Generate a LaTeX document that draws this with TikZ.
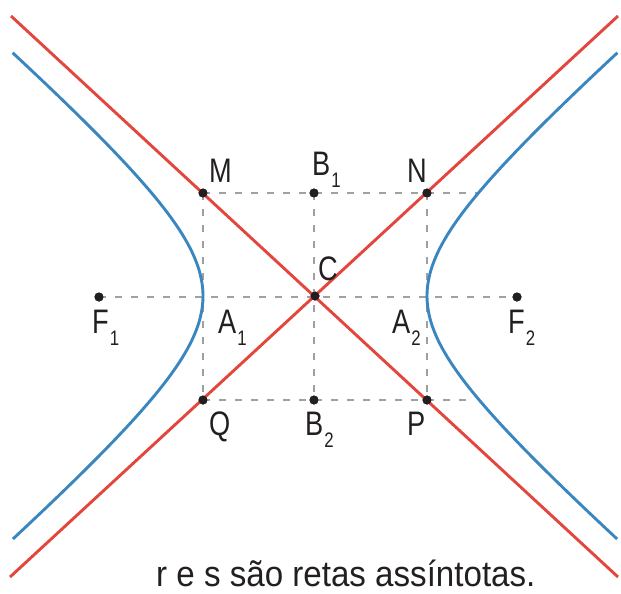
\documentclass[tikz,border=0pt]{standalone}
\usepackage{fontspec}
\setmainfont{Liberation Sans}
\newfontfamily\labfont[FakeStretch=0.8]{Liberation Sans}
\newfontfamily\capfont[FakeStretch=0.92]{Liberation Sans}
\definecolor{redline}{HTML}{E2463C}
\definecolor{blueline}{HTML}{3A86BF}
\definecolor{dashgray}{HTML}{A0A0A0}
\definecolor{ink}{HTML}{231F20}
\newcommand{\lbl}[1]{\fontsize{34}{34}\labfont #1}
\newcommand{\lblsub}[2]{\fontsize{34}{34}\labfont #1\kern1pt\raisebox{-12pt}{\fontsize{21}{21}\labfont #2}}
\begin{document}
\begin{tikzpicture}[x=1pt,y=-1pt,
  ptdot/.style={circle,fill=ink,inner sep=0pt,minimum size=9pt},
  dashline/.style={draw=dashgray,line width=2.2pt,dash pattern=on 7pt off 9pt},
  asym/.style={draw=redline,line width=2.9pt},
  hyp/.style={draw=blueline,line width=2.9pt},
  lab/.style={anchor=base west,inner sep=0pt,text=ink}]
\useasboundingbox (0,0) rectangle (621,594);
% points
\node[ptdot] (C) at (315,296) {};
\node[ptdot] (M) at (203,193) {};
\node[ptdot] (B1) at (314,193) {};
\node[ptdot] (N) at (427,193) {};
\node[ptdot] (Q) at (203,400) {};
\node[ptdot] (B2) at (314,400) {};
\node[ptdot] (P) at (427,400) {};
\node[ptdot] (F1) at (99,297) {};
\node[ptdot] (F2) at (517,297) {};
\coordinate (topend) at (477,193);
\coordinate (botend) at (475,400);
\coordinate (r1) at (11,16);
\coordinate (r2) at (618,577);
\coordinate (s1) at (10,577);
\coordinate (s2) at (618,16);
% dashed rectangle and axes
\path[dashline] (M.center) -- (topend);
\path[dashline] (Q.center) -- (botend);
\path[dashline] (F1.center) -- (F2.center);
\path[dashline] (M.center) -- (Q.center);
\path[dashline] (B1.center) -- (B2.center);
\path[dashline] (N.center) -- (P.center);
% asymptotes
\path[asym] (r1) -- (r2);
\path[asym] (s1) -- (s2);
% hyperbola branches
\path[hyp] plot[domain=-1.65:1.65,samples=80,variable=\t] ({315+112*cosh(\t)},{296+97*sinh(\t)});
\path[hyp] plot[domain=-1.65:1.65,samples=80,variable=\t] ({315-112*cosh(\t)},{296+97*sinh(\t)});
% dots on top
\foreach \p in {C,M,B1,N,Q,B2,P,F1,F2} \node[ptdot] at (\p) {};
% labels
\node[lab] (lM) at (209,182) {\lbl{M}};
\node[lab] (lB1) at (312,175) {\lblsub{B}{1}};
\node[lab] (lN) at (407,182) {\lbl{N}};
\node[lab] (lC) at (318,280) {\lbl{C}};
\node[lab] (lF1) at (92,333) {\lblsub{F}{1}};
\node[lab] (lA1) at (218,333) {\lblsub{A}{1}};
\node[lab] (lA2) at (392,333) {\lblsub{A}{2}};
\node[lab] (lF2) at (508,333) {\lblsub{F}{2}};
\node[lab] (lQ) at (209,435) {\lbl{Q}};
\node[lab] (lB2) at (305,435) {\lblsub{B}{2}};
\node[lab] (lP) at (407,435) {\lbl{P}};
\node[lab] (cap) at (156,586) {\fontsize{36}{36}\capfont r e s são retas assíntotas.};
\end{tikzpicture}
\end{document}
